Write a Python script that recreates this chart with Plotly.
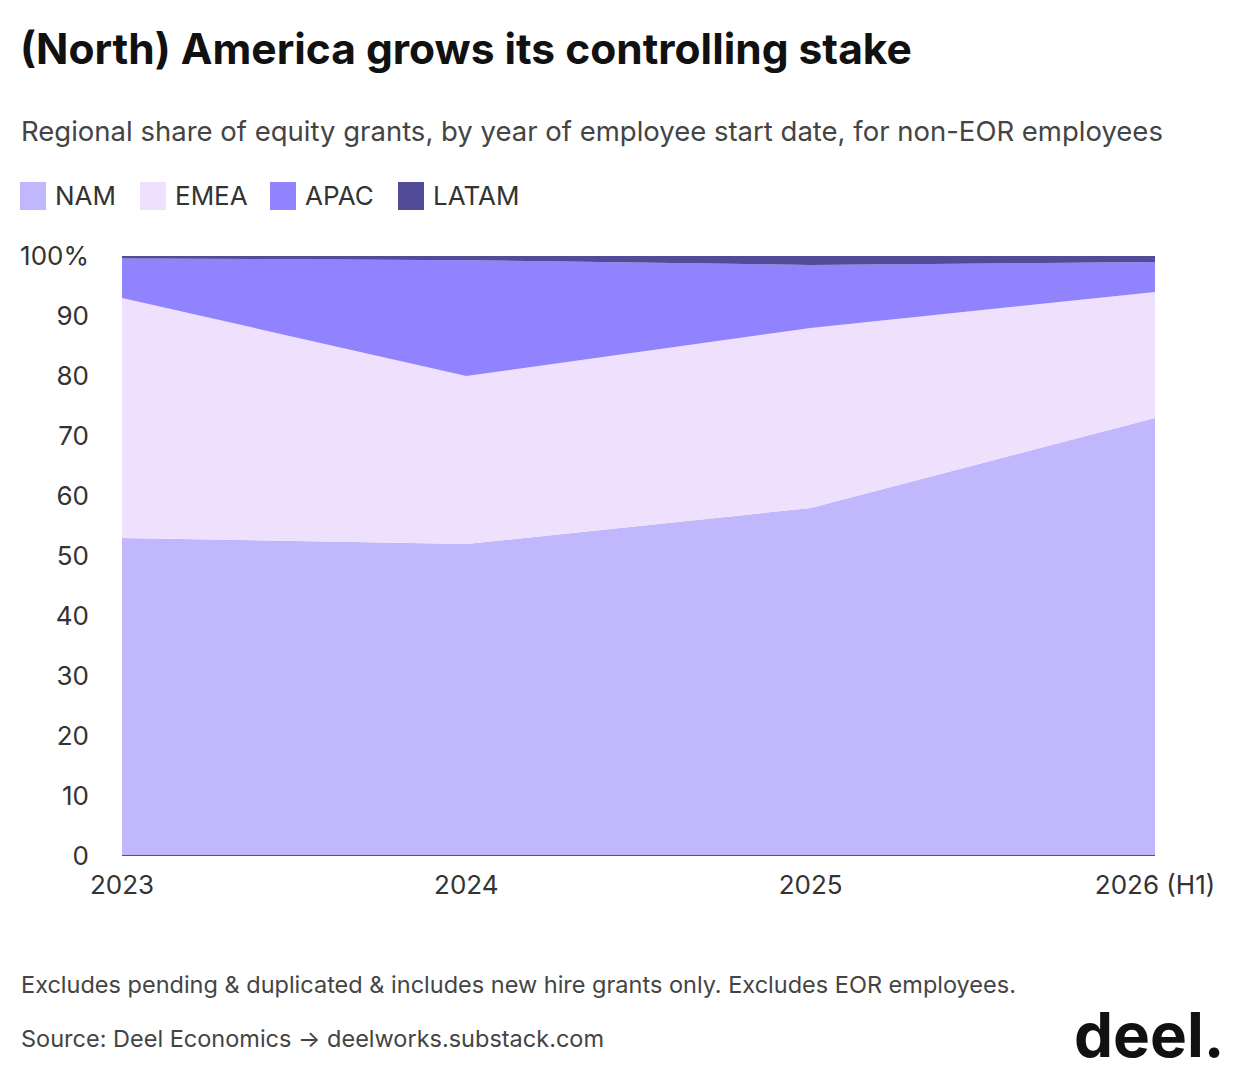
import plotly.graph_objects as go

years = ['2023', '2024', '2025', '2026 (H1)']
nam = [53, 52, 58, 73]
emea = [40, 28, 30, 21]
apac = [6.6, 19.3, 10.5, 5]
latam = [0.4, 0.7, 1.5, 1]

series = [('NAM', nam, '#c0b7fc'), ('EMEA', emea, '#efe1fd'),
          ('APAC', apac, '#9183fd'), ('LATAM', latam, '#504c98')]

xs = list(range(len(years)))
fig = go.Figure()
for name, vals, col in series:
    fig.add_trace(go.Scatter(x=xs, y=vals, name=name, stackgroup='one', mode='none',
                             fillcolor=col, showlegend=False))

FONT = 'Inter'
OFF = 8  # page offset of the plot div
W, H = 1240, 1080
L, T = 122 - OFF, 256 - OFF
pw, ph = 1033, 600
R, B = W - L - pw, H - T - ph

def px(x):
    return (x - OFF - L) / pw

def py(y):
    return (H - B - (y - OFF)) / ph

ann = [
    dict(text='<b>(North) America grows its controlling stake</b>', x=px(18), y=py(48),
         font=dict(size=42.5, color='#111111')),
    dict(text='Regional share of equity grants, by year of employee start date, for non-EOR employees',
         x=px(19), y=py(131), font=dict(size=27.5, color='#444444')),
    dict(text='Excludes pending &amp; duplicated &amp; includes new hire grants only. Excludes EOR employees.',
         x=px(19), y=py(984), font=dict(size=23.5, color='#444444')),
    dict(text='Source: Deel Economics → deelworks.substack.com', x=px(19), y=py(1038),
         font=dict(size=23.5, color='#444444')),
    dict(text='<b>deel.</b>', x=px(1072), y=py(1034), font=dict(size=62, color='#111111')),
]
shapes = []
lx = [20, 140, 270, 398]
for (name, vals, col), x0 in zip(series, lx):
    shapes.append(dict(type='rect', xref='paper', yref='paper', x0=px(x0), x1=px(x0 + 26),
                       y0=py(182), y1=py(210), fillcolor=col, line_width=0))
    ann.append(dict(text=name, x=px(x0 + 33), y=py(196), font=dict(size=26, color='#333333')))
for a in ann:
    a.update(xref='paper', yref='paper', xanchor='left', yanchor='middle', showarrow=False)
shapes.append(dict(type='line', xref='paper', yref='y', x0=0, x1=1, y0=0, y1=0,
                   line=dict(color='#333333', width=1.5)))

fig.update_layout(
    width=W, height=H, margin=dict(l=L, r=R, t=T, b=B),
    paper_bgcolor='white', plot_bgcolor='white',
    font=dict(family=FONT, color='#333333'),
    annotations=ann, shapes=shapes,
    xaxis=dict(range=[0, 3], tickvals=xs, ticktext=years, showgrid=False, zeroline=False,
               tickfont=dict(size=26, color='#333333'), ticks='', ticklabelstandoff=11),
    yaxis=dict(range=[0, 100], tickvals=list(range(0, 101, 10)),
               ticktext=[str(v) for v in range(0, 100, 10)] + ['100%'],
               gridcolor='#e6e6e6', zeroline=False, tickfont=dict(size=26, color='#333333'),
               ticklabelstandoff=32),
)
fig.write_html('out.html')
